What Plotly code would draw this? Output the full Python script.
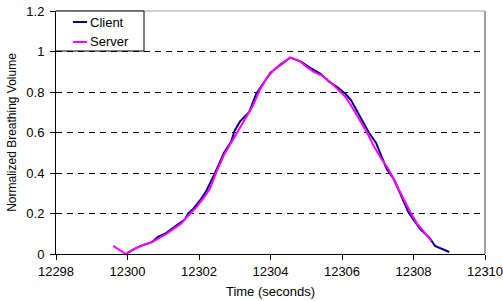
import plotly.graph_objects as go

client_t = [12300.0, 12300.25, 12300.45, 12300.7, 12300.85, 12301.05, 12301.25, 12301.45, 12301.6, 12301.7,
            12301.85, 12302.05, 12302.2, 12302.45, 12302.7, 12302.9, 12303.0, 12303.15, 12303.4, 12303.6,
            12303.75, 12304.0, 12304.25, 12304.55, 12304.85, 12305.1, 12305.4, 12305.65, 12305.9, 12306.1,
            12306.25, 12306.4, 12306.55, 12306.75, 12306.95, 12307.1, 12307.25, 12307.45, 12307.65, 12307.85,
            12308.0, 12308.2, 12308.45, 12308.6, 12309.0]
client_v = [0.005, 0.03, 0.045, 0.06, 0.085, 0.10, 0.125, 0.15, 0.17, 0.20,
            0.225, 0.27, 0.31, 0.40, 0.50, 0.555, 0.61, 0.655, 0.70, 0.79,
            0.83, 0.895, 0.93, 0.97, 0.95, 0.92, 0.89, 0.85, 0.82, 0.79,
            0.76, 0.71, 0.66, 0.60, 0.55, 0.48, 0.42, 0.37, 0.29, 0.21,
            0.17, 0.12, 0.08, 0.04, 0.01]

server_t = [12299.6, 12299.95, 12300.2, 12300.45, 12300.7, 12300.9, 12301.1, 12301.3, 12301.5, 12301.7,
            12301.9, 12302.1, 12302.3, 12302.5, 12302.7, 12302.9, 12303.1, 12303.3, 12303.5, 12303.7,
            12303.9, 12304.1, 12304.3, 12304.55, 12304.8, 12305.0, 12305.2, 12305.45, 12305.7, 12305.9,
            12306.1, 12306.3, 12306.5, 12306.7, 12306.9, 12307.1, 12307.3, 12307.5, 12307.7, 12307.9,
            12308.1, 12308.3, 12308.5]
server_v = [0.04, 0.0, 0.025, 0.045, 0.06, 0.08, 0.10, 0.125, 0.15, 0.19,
            0.225, 0.27, 0.32, 0.41, 0.49, 0.55, 0.61, 0.67, 0.73, 0.81,
            0.87, 0.91, 0.94, 0.97, 0.955, 0.925, 0.90, 0.88, 0.845, 0.81,
            0.775, 0.72, 0.66, 0.60, 0.53, 0.47, 0.42, 0.35, 0.28, 0.21,
            0.15, 0.11, 0.065]

series_names = ["Client", "Server"]
series_colors = ["#000080", "#FF00FF"]

fig = go.Figure()
fig.add_trace(go.Scatter(x=client_t, y=client_v, mode="lines", name=series_names[0],
                         line=dict(color=series_colors[0], width=2)))
fig.add_trace(go.Scatter(x=server_t, y=server_v, mode="lines", name=series_names[1],
                         line=dict(color=series_colors[1], width=2)))

fam = "Liberation Sans, Arial, sans-serif"

W, H = 503, 301
ML, MR, MT, MB = 56, 18, 11, 47
pw = W - ML - MR
ph = H - MT - MB

def px_x(px):  # reference pixel x -> paper
    return (px - ML) / pw

def px_y(py):  # reference pixel y -> paper
    return 1 - (py - MT) / ph

shapes = [
    dict(type="line", xref="paper", yref="paper", x0=0, x1=1, y0=1, y1=1,
         line=dict(color="#a0a0a0", width=1), layer="above"),
    dict(type="line", xref="paper", yref="paper", x0=1, x1=1, y0=0, y1=1,
         line=dict(color="#a0a0a0", width=2), layer="above"),
    # legend box
    dict(type="rect", xref="paper", yref="paper", x0=px_x(55.5), x1=px_x(144), y0=px_y(51), y1=px_y(11),
         line=dict(color="black", width=1), fillcolor="white", layer="above"),
]
annotations = []
for i, (nm, col) in enumerate(zip(series_names, series_colors)):
    yy = px_y(22 + 20 * i)
    shapes.append(dict(type="line", xref="paper", yref="paper", x0=px_x(73), x1=px_x(87), y0=yy, y1=yy,
                       line=dict(color=col, width=2), layer="above"))
    annotations.append(dict(text=nm, xref="paper", yref="paper", x=px_x(88), y=yy,
                            xanchor="left", yanchor="middle", showarrow=False,
                            font=dict(family=fam, size=13, color="black")))

fig.update_layout(
    width=W, height=H,
    margin=dict(l=ML, r=MR, t=MT, b=MB, autoexpand=False),
    paper_bgcolor="white", plot_bgcolor="white",
    font=dict(family=fam, size=13, color="black"),
    showlegend=False,
    xaxis=dict(range=[12298, 12310], dtick=2, tick0=12298, tickformat="d",
               automargin=False, ticklabeloverflow="allow",
               showgrid=False, zeroline=False,
               showline=True, linecolor="black", linewidth=1,
               ticks="outside", ticklen=5, tickcolor="black",
               title=dict(text="Time (seconds)", font=dict(size=13), standoff=9)),
    yaxis=dict(range=[0, 1.2], dtick=0.2, tick0=0,
               automargin=False, ticklabeloverflow="allow", ticklabelstandoff=3,
               showgrid=True, gridcolor="black", gridwidth=1, griddash="6px,5px",
               zeroline=False,
               showline=True, linecolor="black", linewidth=1,
               ticks="outside", ticklen=5, tickcolor="black",
               title=dict(text="Normalized Breathing Volume", font=dict(size=12), standoff=7)),
    shapes=shapes,
    annotations=annotations,
)

# remove the browser's default 8px body margin so the figure fills the window exactly
fig.write_html("out.html", config={"displayModeBar": False},
               post_script="document.body.style.margin='0';")
